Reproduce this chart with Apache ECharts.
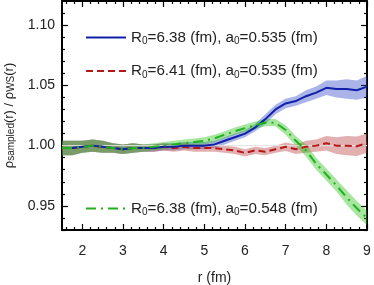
<!DOCTYPE html>
<html><head><meta charset="utf-8">
<script src="https://cdn.jsdelivr.net/npm/echarts@6/dist/echarts.min.js"></script>
<style>html,body{margin:0;padding:0;background:#fff}#c{width:374px;height:285px}</style>
</head><body><div id="c"></div>
<script>
var rVals = [1.5,1.75,2,2.25,2.5,2.75,3,3.25,3.5,3.75,4,4.25,4.5,4.75,5,5.25,5.5,5.75,6,6.25,6.5,6.75,7,7.25,7.5,7.75,8,8.25,8.5,8.75,9];
var blueVals = [0.998,0.998,0.999,1.000,0.999,0.998,0.997,0.998,0.998,0.998,0.999,0.999,1.000,1.000,1.000,1.001,1.004,1.007,1.010,1.015,1.022,1.030,1.035,1.037,1.041,1.044,1.048,1.047,1.047,1.046,1.049];
var blueErr = [0.006,0.006,0.005,0.005,0.005,0.004,0.004,0.004,0.003,0.003,0.003,0.003,0.003,0.003,0.003,0.003,0.003,0.003,0.003,0.003,0.004,0.004,0.004,0.004,0.005,0.005,0.006,0.007,0.008,0.008,0.009];
var redVals = [0.998,0.998,0.999,1.000,0.999,0.998,0.997,0.998,0.998,0.998,0.999,0.998,0.999,0.998,0.998,0.998,0.997,0.996,0.994,0.996,0.995,0.997,0.999,0.997,0.999,1.000,1.002,1.000,1.000,0.9995,1.002];
var redErr = [0.006,0.006,0.005,0.005,0.005,0.004,0.004,0.004,0.003,0.003,0.003,0.003,0.003,0.003,0.003,0.003,0.003,0.003,0.003,0.003,0.003,0.003,0.0035,0.004,0.005,0.005,0.006,0.007,0.008,0.008,0.008];
var greenVals = [0.998,0.998,0.999,1.000,0.999,0.998,0.997,0.998,0.998,0.999,1.000,1.001,1.002,1.003,1.004,1.006,1.009,1.012,1.0145,1.017,1.019,1.019,1.013,1.004,0.996,0.985,0.976,0.967,0.957,0.948,0.940];
var greenErr = [0.006,0.006,0.005,0.005,0.005,0.004,0.004,0.004,0.003,0.003,0.003,0.003,0.003,0.003,0.003,0.003,0.003,0.003,0.003,0.003,0.003,0.003,0.004,0.004,0.005,0.005,0.005,0.005,0.006,0.006,0.006];
var xMajor = [2,3,4,5,6,7,8,9];
var xMinor = [1.6,1.8,2.2,2.4,2.6,2.8,3.2,3.4,3.6,3.8,4.2,4.4,4.6,4.8,5.2,5.4,5.6,5.8,6.2,6.4,6.6,6.8,7.2,7.4,7.6,7.8,8.2,8.4,8.6,8.8];
var yMajor = [0.95,1.00,1.05,1.10];
var yMinor = [0.93,0.94,0.96,0.97,0.98,0.99,1.01,1.02,1.03,1.04,1.06,1.07,1.08,1.09,1.11,1.12];
var names = ['R0=6.38 (fm), a0=0.535 (fm)','R0=6.41 (fm), a0=0.535 (fm)','R0=6.38 (fm), a0=0.548 (fm)'];

var FONT = 'Liberation Sans, Arial, sans-serif';
function pairs(v){ return rVals.map(function(x,i){return [x,v[i]];}); }
function bandData(v,e){ return rVals.map(function(x,i){return [x, v[i]-e[i], v[i]+e[i]];}); }

function band(id, v, e, color){
  var d = bandData(v,e);
  return {name:id, type:'custom', data:d, silent:true, z:1, clip:true,
    encode:{x:0, y:[1,2]},
    renderItem:function(params, api){
      if (params.dataIndex !== 0) return null;
      var up = [], dn = [];
      for (var i=0;i<d.length;i++){
        up.push(api.coord([d[i][0], d[i][2]]));
        dn.unshift(api.coord([d[i][0], d[i][1]]));
      }
      var cs = params.coordSys;
      return {type:'polygon', shape:{points:up.concat(dn)}, style:{fill:color, stroke:null},
        clipPath:{type:'rect', shape:{x:cs.x, y:cs.y, width:cs.width, height:cs.height}}};
    }
  };
}

function xAx(pos, vals, len, main){
  return {type:'value', position:pos, min:1.5, max:9, gridIndex:0,
    axisLine:{show:main, lineStyle:{color:'#000', width:2}},
    axisTick:{show:true, inside:true, length:len, customValues:vals, lineStyle:{color:'#000', width:1.2}},
    axisLabel:{show:(main && pos==='bottom'), customValues:xMajor, fontFamily:FONT, fontSize:14, color:'#222', margin:14},
    splitLine:{show:false},
    name:(main && pos==='bottom') ? 'r (fm)' : '', nameLocation:'middle', nameGap:41,
    nameTextStyle:{fontFamily:FONT, fontSize:14, color:'#222'}
  };
}
function yAx(pos, vals, len, main){
  return {type:'value', position:pos, min:0.93, max:1.12, gridIndex:0,
    axisLine:{show:main, lineStyle:{color:'#000', width:2}},
    axisTick:{show:true, inside:true, length:len, customValues:vals, lineStyle:{color:'#000', width:1.2}},
    axisLabel:{show:(main && pos==='left'), customValues:yMajor, fontFamily:FONT, fontSize:14, color:'#222', margin:7,
      formatter:function(v){return v.toFixed(2);}},
    splitLine:{show:false},
    name:(main && pos==='left') ? 'ρ{s|sampled}(r) / ρ{s|WS}(r)' : '', nameLocation:'middle', nameRotate:90, nameGap:46,
    nameTextStyle:{fontFamily:FONT, fontSize:13, color:'#222',
      rich:{s:{fontFamily:FONT, fontSize:10, color:'#222', verticalAlign:'bottom', lineHeight:11}}}
  };
}

var richLegend = {
  n:{fontFamily:FONT, fontSize:15.2, color:'#222', lineHeight:18},
  s:{fontFamily:FONT, fontSize:10, color:'#222', verticalAlign:'bottom', lineHeight:12}
};
function legendFmt(name){
  return name.replace(/^R0(.*), a0(.*)$/, function(m,a,b){
    return '{n|R}{s|0}{n|'+a+', a}{s|0}{n|'+b+'}';
  });
}

var series = [
  band('bBand', blueVals, blueErr, 'rgba(42,67,197,0.4)'),
  band('rBand', redVals, redErr, 'rgba(182,57,57,0.4)'),
  band('gBand', greenVals, greenErr, 'rgba(37,192,17,0.4)'),
  {name:'ref', type:'line', data:[[1.5,1],[9,1]], symbol:'none', lineStyle:{color:'#e2e2e2', width:1}, silent:true, z:2},
  {name:names[0], type:'line', data:pairs(blueVals), symbol:'none', lineStyle:{color:'#1020a8', width:2}, itemStyle:{color:'#1020a8'}, z:5},
  {name:names[1], type:'line', data:pairs(redVals), symbol:'none', lineStyle:{color:'#b41818', width:2, type:[7,4]}, itemStyle:{color:'#b41818'}, z:4},
  {name:names[2], type:'line', data:pairs(greenVals), symbol:'none', lineStyle:{color:'#20b020', width:2, type:[10,5,2,5]}, itemStyle:{color:'#20b020'}, z:6}
];

var legBase = {orient:'vertical', left:80, itemWidth:40, itemHeight:14, formatter:legendFmt,
  itemStyle:{opacity:0}, textStyle:{fontFamily:FONT, fontSize:15.2, color:'#222', rich:richLegend}, selectedMode:false};

var chart = echarts.init(document.getElementById('c'), null, {renderer:'canvas'});
chart.setOption({
  animation:false,
  backgroundColor:'#fff',
  grid:{left:62, right:7, top:1, bottom:55, containLabel:false, outerBoundsMode:'none'},
  xAxis:[xAx('bottom', xMajor, 6, true), xAx('bottom', xMinor, 3, false), xAx('top', xMajor, 6, true), xAx('top', xMinor, 3, false)],
  yAxis:[yAx('left', yMajor, 6, true), yAx('left', yMinor, 3, false), yAx('right', yMajor, 6, true), yAx('right', yMinor, 3, false)],
  legend:[
    Object.assign({}, legBase, {data:[names[0], names[1]], top:25, itemGap:17}),
    Object.assign({}, legBase, {data:[names[2]], top:196})
  ],
  series:series
});
</script></body></html>
